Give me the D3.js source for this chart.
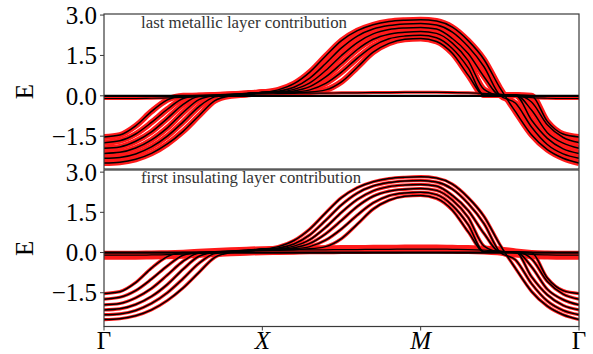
<!DOCTYPE html>
<html>
<head>
<meta charset="utf-8">
<script src="https://cdn.jsdelivr.net/npm/d3@7"></script>
<style>
  html, body { margin: 0; padding: 0; background: #fff; }
  svg { display: block; font-family: "Liberation Serif", "DejaVu Serif", serif; }
</style>
</head>
<body>
<div id="chart"></div>
<script>
// k-path position (0 = Gamma, 1 = X, 2 = M, 3 = Gamma)
const kPath = [0, 0.1, 0.2, 0.3, 0.4, 0.5, 0.6, 0.7, 0.8, 0.9, 1.0,
  1.1, 1.2, 1.3, 1.4, 1.5, 1.6, 1.7, 1.8, 1.9, 2.0,
  2.1, 2.2, 2.3, 2.4, 2.5, 2.6, 2.7, 2.8, 2.9, 3.0];

const kTicks = [0, 1, 2, 3];
const kLabels = ["Γ", "X", "M", "Γ"];
const eTicks = [3.0, 1.5, 0.0, -1.5];
const panelTitles = ["last metallic layer contribution", "first insulating layer contribution"];

// dispersive bands
const band0 = [-2.50, -2.47, -2.36, -2.14, -1.79, -1.32, -0.74, -0.18, 0.00, 0.05, 0.12,
  0.22, 0.45, 0.88, 1.48, 2.05, 2.42, 2.64, 2.76, 2.81, 2.83,
  2.78, 2.55, 2.05, 1.35, 0.30, -0.60, -1.45, -2.00, -2.32, -2.50];
const band1 = [-2.32, -2.29, -2.16, -1.90, -1.50, -0.97, -0.40, -0.04, 0.02, 0.06, 0.12,
  0.17, 0.32, 0.66, 1.20, 1.78, 2.22, 2.48, 2.61, 2.67, 2.69,
  2.63, 2.37, 1.83, 1.08, 0.02, -0.28, -1.16, -1.81, -2.16, -2.32];
const band2 = [-2.14, -2.10, -1.94, -1.64, -1.19, -0.62, -0.14, 0.00, 0.03, 0.07, 0.12,
  0.14, 0.24, 0.48, 0.94, 1.50, 1.98, 2.30, 2.46, 2.52, 2.54,
  2.48, 2.13, 1.57, 0.71, 0.03, 0.02, -0.90, -1.58, -1.97, -2.14];
const band3 = [-1.95, -1.90, -1.69, -1.34, -0.84, -0.32, -0.02, 0.01, 0.04, 0.08, 0.12,
  0.13, 0.18, 0.34, 0.70, 1.20, 1.72, 2.10, 2.29, 2.36, 2.39,
  2.32, 1.96, 1.31, 0.24, 0.03, 0.03, -0.53, -1.37, -1.76, -1.95];
const band4 = [-1.74, -1.67, -1.42, -0.99, -0.50, -0.10, 0.00, 0.02, 0.05, 0.09, 0.12,
  0.12, 0.14, 0.22, 0.46, 0.88, 1.40, 1.85, 2.12, 2.22, 2.25,
  2.16, 1.76, 1.04, 0.03, 0.03, 0.03, -0.23, -1.08, -1.55, -1.74];
const band5 = [-1.53, -1.46, -1.12, -0.58, -0.15, 0.00, 0.01, 0.03, 0.06, 0.09, 0.12,
  0.12, 0.12, 0.14, 0.22, 0.52, 1.06, 1.62, 1.95, 2.10, 2.13,
  2.02, 1.58, 0.77, 0.03, 0.03, 0.03, 0.00, -0.95, -1.42, -1.53];

// flat bands near the Fermi level
const flatA = [0, 0, 0, 0, 0, 0, 0, 0, 0, 0, 0,
  0, 0, 0, 0, 0, 0, 0, 0, 0, 0,
  0, 0, 0, 0, 0, 0, 0, 0, 0, 0];
const flatB = [-0.10, -0.10, -0.10, -0.09, -0.08, -0.06, -0.03, 0.00, 0.03, 0.05, 0.07,
  0.08, 0.09, 0.10, 0.10, 0.11, 0.11, 0.12, 0.12, 0.13, 0.13,
  0.13, 0.12, 0.11, 0.09, 0.06, -0.02, -0.07, -0.09, -0.10, -0.10];

const bands = [band0, band1, band2, band3, band4, band5];

const width = 593, height = 354;
const x = d3.scaleLinear().domain([0, 3]).range([104, 579]);

const panels = [
  { top: 14, bottom: 169, domain: [-2.72, 3.04], bandRed: 6, flatRed: 3, titleY: 28, titleLen: 206 },
  { top: 170, bottom: 326.5, domain: [-2.76, 3.08], bandRed: 3.2, flatRed: 9, titleY: 183, titleLen: 220 }
];

const svg = d3.select("#chart").append("svg")
  .attr("width", width)
  .attr("height", height);

panels.forEach((p, pi) => {
  const y = d3.scaleLinear().domain(p.domain).range([p.bottom, p.top]);
  const line = d3.line()
    .x((d, i) => x(kPath[i]))
    .y(d => y(d))
    .curve(d3.curveMonotoneX);

  svg.append("clipPath").attr("id", "clip" + pi)
    .append("rect")
    .attr("x", x(0)).attr("y", p.top)
    .attr("width", x(3) - x(0)).attr("height", p.bottom - p.top);

  const g = svg.append("g").attr("clip-path", `url(#clip${pi})`);

  // red weight first, black bands on top
  g.append("path").datum(flatB)
    .attr("fill", "none").attr("stroke", "#ff1a1a")
    .attr("stroke-width", p.flatRed).attr("d", line);

  bands.forEach(b => {
    g.append("path").datum(b)
      .attr("fill", "none").attr("stroke", "#ff1a1a")
      .attr("stroke-width", p.bandRed)
      .attr("stroke-linejoin", "round")
      .attr("d", line);
  });

  g.append("path").datum(flatB)
    .attr("fill", "none").attr("stroke", "#000")
    .attr("stroke-width", 1.2).attr("d", line);

  g.append("path").datum(flatA)
    .attr("fill", "none").attr("stroke", "#000")
    .attr("stroke-width", 2.2).attr("d", line);

  bands.forEach(b => {
    g.append("path").datum(b)
      .attr("fill", "none").attr("stroke", "#000")
      .attr("stroke-width", 1.5).attr("d", line);
  });

  // frame
  svg.append("rect")
    .attr("x", x(0)).attr("y", p.top)
    .attr("width", x(3) - x(0)).attr("height", p.bottom - p.top)
    .attr("fill", "none").attr("stroke", "#3a3a3a").attr("stroke-width", 1.2);

  // y ticks
  eTicks.forEach(t => {
    svg.append("line")
      .attr("x1", x(0) - 4).attr("x2", x(0))
      .attr("y1", y(t)).attr("y2", y(t))
      .attr("stroke", "#3a3a3a").attr("stroke-width", 1);
    svg.append("text")
      .attr("x", x(0) - 7).attr("y", y(t))
      .attr("dy", "0.35em")
      .attr("text-anchor", "end")
      .style("font-size", "25px")
      .text(d3.format(".1f")(t).replace("-", "\u2212"));
  });

  svg.append("text")
    .attr("transform", `translate(24, ${(p.top + p.bottom) / 2}) rotate(-90)`)
    .attr("dy", "0.35em")
    .attr("text-anchor", "middle")
    .style("font-size", "25px")
    .text("E");

  svg.append("text")
    .attr("x", 141).attr("y", p.titleY)
    .attr("textLength", p.titleLen)
    .attr("lengthAdjust", "spacingAndGlyphs")
    .style("font-size", "16px")
    .style("fill", "#333")
    .text(panelTitles[pi]);
});

// x ticks on the lower panel
const xBottom = panels[1].bottom;
kTicks.forEach((t, i) => {
  svg.append("line")
    .attr("x1", x(t)).attr("x2", x(t))
    .attr("y1", xBottom).attr("y2", xBottom + 4)
    .attr("stroke", "#3a3a3a").attr("stroke-width", 1);
  svg.append("text")
    .attr("x", x(t)).attr("y", 349)
    .attr("text-anchor", "middle")
    .style("font-size", "25px")
    .style("font-style", kLabels[i] === "Γ" ? "normal" : "italic")
    .text(kLabels[i]);
});
</script>
</body>
</html>
